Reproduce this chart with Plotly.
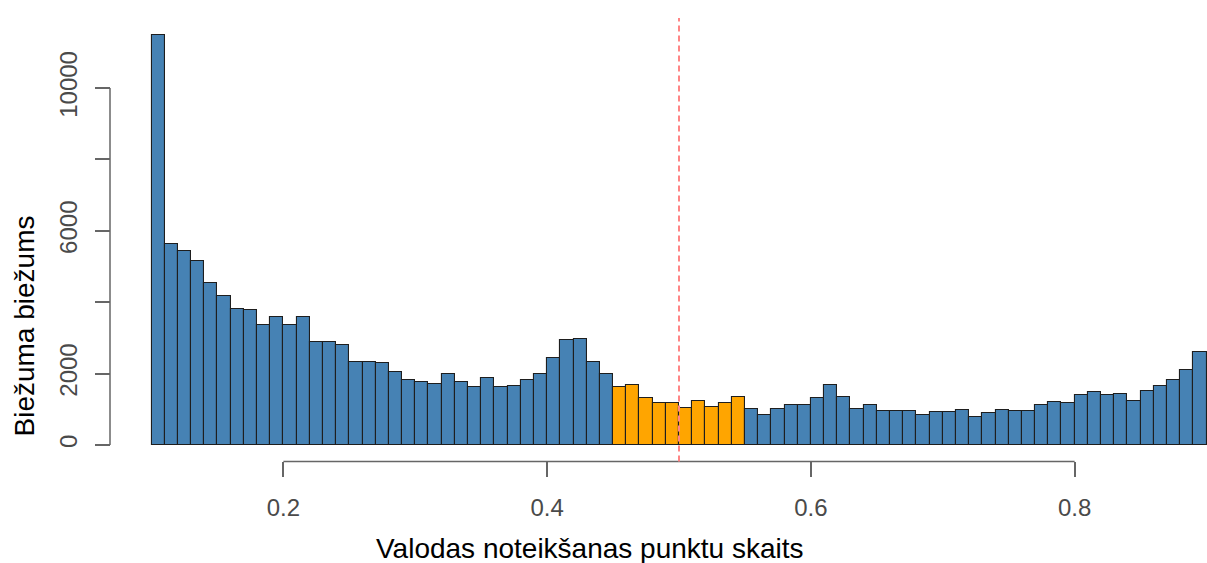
import plotly.graph_objects as go

# ---- data ----
bin_start = 0.10
bin_width = 0.01
counts = [11480, 5620, 5440, 5160, 4530, 4170, 3820, 3780, 3360, 3590,
          3360, 3590, 2890, 2890, 2800, 2330, 2330, 2310, 2050, 1830,
          1760, 1700, 1990, 1760, 1620, 1890, 1630, 1650, 1810, 1990,
          2450, 2940, 2970, 2320, 1990, 1620, 1680, 1320, 1170, 1170,
          1050, 1240, 1060, 1190, 1340, 1010, 840, 1010, 1120, 1120,
          1310, 1680, 1350, 1010, 1120, 960, 960, 960, 840, 930,
          930, 990, 790, 890, 980, 950, 960, 1120, 1200, 1190,
          1400, 1490, 1400, 1420, 1240, 1520, 1660, 1820, 2100, 2610]
highlight_range = (0.45, 0.55)
threshold = 0.5
x_ticks = [0.2, 0.4, 0.6, 0.8]
x_ticklabels = ["0.2", "0.4", "0.6", "0.8"]
y_ticks = [0, 2000, 4000, 6000, 8000, 10000]
y_ticklabels = ["0", "2000", "", "6000", "", "10000"]
x_title = "Valodas noteikšanas punktu skaits"
y_title = "Biežuma biežums"

BLUE = "#4682B4"
ORANGE = "#FFA500"

colors = []
for i in range(len(counts)):
    left = bin_start + i * bin_width
    if highlight_range[0] - 1e-9 <= left < highlight_range[1] - 1e-9:
        colors.append(ORANGE)
    else:
        colors.append(BLUE)

W, H = 1207, 563


def px_x(p):
    return p / W


def px_y(p):
    return (H - p) / H


plot_left_px, plot_right_px = 140, 1207
plot_top_px, plot_bot_px = 18, 461.4
px_per_unit = 1318.75
x_lo = bin_start - (151.5 - plot_left_px) / px_per_unit
x_hi = 0.9 + (plot_right_px - 1206.5) / px_per_unit
zero_px = 445.0
px_per_count = 35.7 / 1000
y_hi = (zero_px - plot_top_px) / px_per_count
y_lo = (zero_px - plot_bot_px) / px_per_count

y_dom = [px_y(plot_bot_px), px_y(plot_top_px)]
x_dom = [px_x(plot_left_px), 1.0]
yaxis_pos = px_x(110)

fig = go.Figure()
fig.add_trace(go.Bar(
    x0=bin_start + bin_width / 2, dx=bin_width, y=counts,
    width=bin_width,
    marker=dict(color=colors, line=dict(color="#1e1e1e", width=1.1)),
    showlegend=False,
))

tick_font = dict(family="Liberation Sans Narrow, Liberation Sans, Arial", size=24, color="#4a4a4a")

fig.update_layout(
    width=W, height=H,
    margin=dict(l=0, r=0, t=0, b=0),
    paper_bgcolor="white", plot_bgcolor="white",
    bargap=0,
    xaxis=dict(domain=x_dom, range=[x_lo, x_hi], showgrid=False, zeroline=False,
               showline=False, tickmode="array", tickvals=x_ticks, ticktext=x_ticklabels,
               ticks="outside", ticklen=15, tickwidth=1.5, tickcolor="#666666",
               tickfont=tick_font, ticklabelstandoff=10),
    yaxis=dict(domain=y_dom, range=[y_lo, y_hi], showgrid=False, zeroline=False,
               showline=False, anchor="free", position=yaxis_pos,
               tickmode="array", tickvals=y_ticks, ticktext=y_ticklabels,
               ticks="outside", ticklen=15, tickwidth=1.5, tickcolor="#666666",
               tickangle=-90, tickfont=tick_font, ticklabelstandoff=8),
    shapes=[
        dict(type="line", xref="x", yref="paper", x0=x_ticks[0], x1=x_ticks[-1],
             y0=y_dom[0], y1=y_dom[0], line=dict(color="#666666", width=1.5)),
        dict(type="line", xref="paper", yref="y", x0=yaxis_pos, x1=yaxis_pos,
             y0=y_ticks[0], y1=y_ticks[-1], line=dict(color="#666666", width=1.5)),
        dict(type="line", xref="x", yref="paper", x0=threshold, x1=threshold,
             y0=y_dom[0], y1=y_dom[1], layer="above",
             line=dict(color="#FF8585", width=2, dash="6px,4px")),
    ],
    annotations=[
        dict(text=x_title, xref="paper", yref="paper", x=px_x(590), y=px_y(548),
             showarrow=False, xanchor="center", yanchor="middle",
             font=dict(family="Liberation Sans, Arial", size=28, color="black")),
        dict(text=y_title, xref="paper", yref="paper", x=px_x(24), y=px_y(326.5),
             showarrow=False, xanchor="center", yanchor="middle", textangle=-90,
             font=dict(family="Liberation Sans, Arial", size=28, color="black")),
    ],
)

fig.write_html(
    "out.html",
    config={"displayModeBar": False},
    post_script="document.body.style.margin='0px';"
                "document.documentElement.style.overflow='hidden';"
                "document.body.style.overflow='hidden';",
)
